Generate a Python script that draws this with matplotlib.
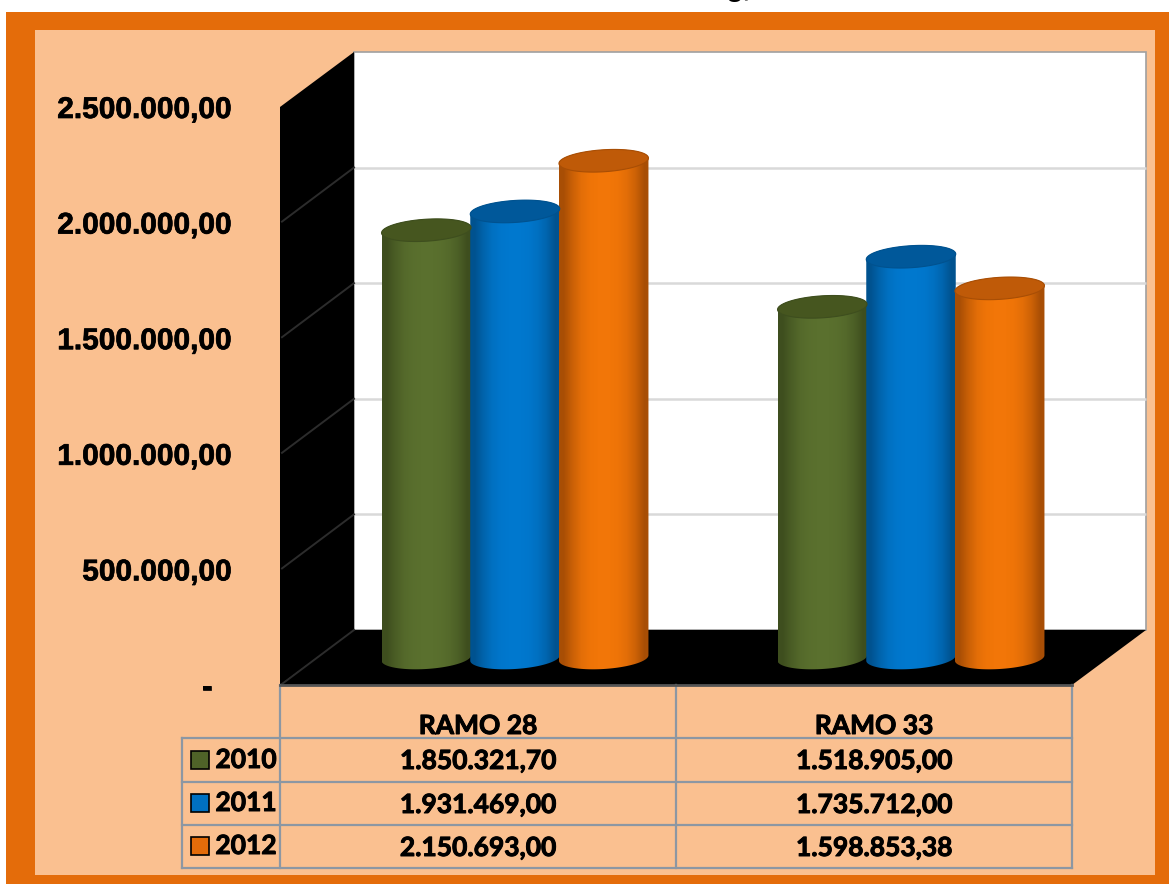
import numpy as np
import matplotlib
matplotlib.use('Agg')
import matplotlib.pyplot as plt
import matplotlib.patheffects as pe
from matplotlib.colors import LinearSegmentedColormap
from matplotlib.patches import Polygon, Rectangle

categorias = ['RAMO 28', 'RAMO 33']
anios = ['2010', '2011', '2012']
val_2010 = [1850321.70, 1518905.00]
val_2011 = [1931469.00, 1735712.00]
val_2012 = [2150693.00, 1598853.38]
etiquetas_2010 = ['1.850.321,70', '1.518.905,00']
etiquetas_2011 = ['1.931.469,00', '1.735.712,00']
etiquetas_2012 = ['2.150.693,00', '1.598.853,38']
ticks = [0, 500000, 1000000, 1500000, 2000000, 2500000]
tick_labels = ['-', '500.000,00', '1.000.000,00', '1.500.000,00', '2.000.000,00', '2.500.000,00']

NARANJA = '#E46C0A'
DURAZNO = '#FAC090'
GRIS = '#8C97A3'
colores = ['#4F6228', '#0070C0', '#E46C0A']
# borde, centro, tapa
tonos = [('#3E4E1E', '#5A702E', '#46561F'),
         ('#00528F', '#0078CE', '#00589A'),
         ('#A84E05', '#F27608', '#BF5A08')]

W, H = 1169, 884
PX = 578 / 2500000  # pixeles por unidad

fig = plt.figure(figsize=(W / 100, H / 100), dpi=100, facecolor='white')

# fondo en pixeles: marco, paredes y tabla
bg = fig.add_axes([0, 0, 1, 1], zorder=0)
bg.set_xlim(0, W)
bg.set_ylim(H, 0)
bg.axis('off')
bg.add_patch(Rectangle((6, 12), W - 6, H - 12, color=NARANJA, lw=0))
bg.add_patch(Rectangle((35, 30), 1120, 845, color=DURAZNO, lw=0))

# paredes
bg.add_patch(Rectangle((354, 52), 792, 578, facecolor='white', edgecolor='#A0A0A0', lw=1.2))
bg.add_patch(Polygon([(280, 107), (354, 52), (354, 630), (280, 685)], color='black', lw=0))
bg.add_patch(Polygon([(280, 685), (354, 630), (1146, 630), (1072, 685)], color='black', lw=0))
for t in ticks[1:-1]:
    yb = 630 - t * PX
    bg.plot([354, 1146], [yb, yb], color='#D9D9D9', lw=1.8, solid_capstyle='butt')
for t in ticks[:-1]:
    yb = 630 - t * PX
    bg.plot([282, 354], [yb + 54, yb], color='#2C2C2C', lw=1.4)

# etiquetas eje y
grueso = [pe.withStroke(linewidth=0.5, foreground='black')]
for t, lab in zip(ticks, tick_labels):
    x = 207 if t == 0 else 232
    bg.text(x, 685 - t * PX + 3, lab, ha='center' if t == 0 else 'right', va='center',
            fontsize=21.5, fontweight='bold', family='Liberation Sans', color='black',
            path_effects=grueso)

# tabla
for x in [280, 676, 1072]:
    bg.plot([x, x], [685, 868], color=GRIS, lw=1.6)
bg.plot([182, 182], [738, 868], color=GRIS, lw=1.6)
bg.plot([280, 1072], [685, 685], color='#555555', lw=2)
for y in [738, 782, 825, 868]:
    bg.plot([182, 1072], [y, y], color=GRIS, lw=1.6)

txt = dict(fontsize=19, fontweight='bold', family='Lato', color='black', ha='center', va='center',
           path_effects=[pe.withStroke(linewidth=0.7, foreground='black')])
for i, cat in enumerate(categorias):
    cx = 478 + i * 396
    bg.text(cx, 726, cat, **txt)
    bg.text(cx, 761, etiquetas_2010[i], **txt)
    bg.text(cx, 805, etiquetas_2011[i], **txt)
    bg.text(cx, 848, etiquetas_2012[i], **txt)
for j, (an, y) in enumerate(zip(anios, [760, 803, 846])):
    bg.add_patch(Rectangle((191, y - 9), 18, 18, facecolor=colores[j], edgecolor='black', lw=1.2))
    bg.text(246, y, an, **txt)

# titulo cortado arriba
bg.text(739, -4, 'g,', fontsize=21, fontweight='bold', family='Liberation Sans',
        ha='center', va='baseline', color='black')

# cilindros
Y_BOT = 704
ax = fig.add_axes([317 / W, 1 - Y_BOT / H, 792 / W, (Y_BOT - 80) / H], zorder=1)
ax.patch.set_alpha(0)
ax.axis('off')
xlim = (0, 2)
ylim = (-(Y_BOT - 658) / PX, 2500000)
ax.set_xlim(*xlim)
ax.set_ylim(*ylim)

ancho = 0.226
sep = 0.224
b = 11 / PX
incl = 2.7 / PX
t = np.linspace(0, 2 * np.pi, 121)


def cilindro(cx, v, tono):
    borde, centro, tapa = tono
    a = ancho / 2
    ex = np.cos(t)
    px = cx + a * ex
    pie = b * np.sin(t) + incl * ex
    abajo = t >= np.pi
    arriba = t <= np.pi
    # cuerpo: mitad inferior de la base y mitad trasera de la tapa
    xs = np.r_[px[abajo], px[arriba]]
    ys = np.r_[pie[abajo], v + pie[arriba]]
    cuerpo = Polygon(np.c_[xs, ys], closed=True, facecolor='none', edgecolor='none', zorder=3)
    ax.add_patch(cuerpo)
    cmap = LinearSegmentedColormap.from_list('c', [borde, centro], N=128)
    grad = np.array([[0, 0.45, 0.8, 0.95, 1, 1, 0.95, 0.8, 0.5, 0]])
    im = ax.imshow(grad, extent=(cx - a, cx + a, -b - incl, v + b + incl), aspect='auto',
                   cmap=cmap, vmin=0, vmax=1, interpolation='bilinear', zorder=2.5)
    im.set_clip_path(cuerpo)
    ax.fill(px, v + pie, facecolor=tapa, edgecolor=borde, lw=0.8, zorder=4)


for i in range(len(categorias)):
    centro_x = i + 0.5
    for j, vals in enumerate([val_2010, val_2011, val_2012]):
        cilindro(centro_x + (j - 1) * sep, vals[i], tonos[j])
ax.set_xlim(*xlim)
ax.set_ylim(*ylim)

fig.savefig('out.png', dpi=100)
